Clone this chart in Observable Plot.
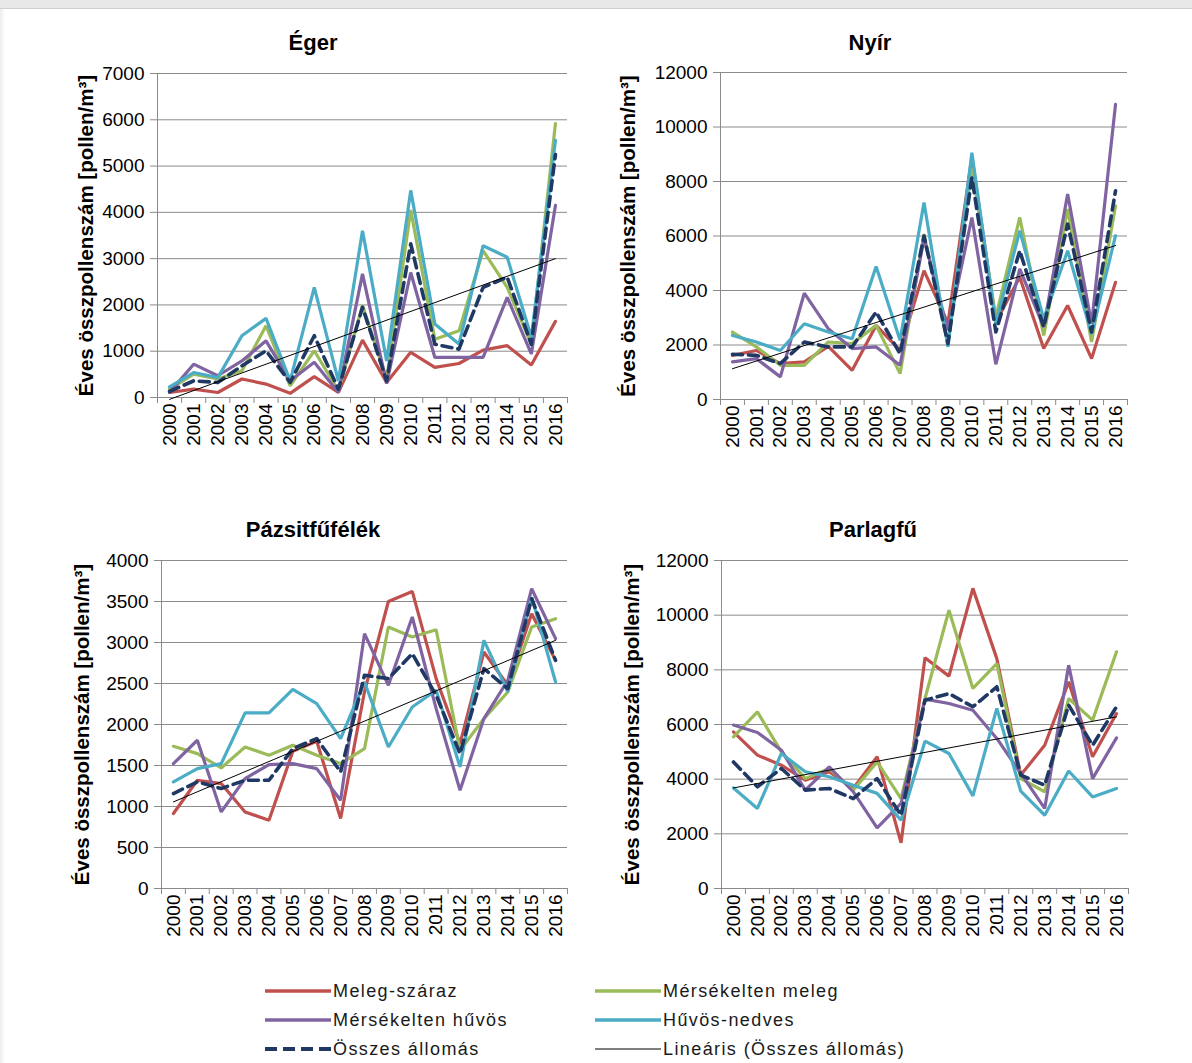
<!DOCTYPE html>
<html>
<head>
<meta charset="utf-8">
<script src="https://cdn.jsdelivr.net/npm/d3@7"></script>
<script src="https://cdn.jsdelivr.net/npm/@observablehq/plot@0.6"></script>
<style>
  html, body { margin: 0; padding: 0; background: #fff; }
  #root { position: relative; width: 1192px; height: 1063px; overflow: hidden; font-family: "Liberation Sans", Arial, sans-serif; }
  .topband { position: absolute; left: 0; top: 0; width: 1192px; height: 8px; background: #e8e8e8; border-bottom: 1px solid #cfcfcf; }
  .leftband { position: absolute; left: 0; top: 9px; width: 5px; height: 1054px; background: linear-gradient(to right, #ececec, #fff); }
  .chart { position: absolute; }
  .title { position: absolute; width: 300px; text-align: center; font-weight: bold; font-size: 22px; color: #000; }
  .leg { position: absolute; font-size: 18px; color: #1a1a1a; display: flex; align-items: center; letter-spacing: 1.4px; }
  .leg svg { margin-right: 2px; }
</style>
</head>
<body>
<div id="root">
  <div class="topband"></div>
  <div class="leftband"></div>
</div>
<script>
// ---- Data ----
const years = [2000, 2001, 2002, 2003, 2004, 2005, 2006, 2007, 2008, 2009, 2010, 2011, 2012, 2013, 2014, 2015, 2016];
const seriesNames = ["Meleg-száraz", "Mérsékelten meleg", "Mérsékelten hűvös", "Hűvös-nedves", "Összes állomás"];
const trendName = "Lineáris (Összes állomás)";
const seriesColors = ["#c0504d", "#9bbb59", "#8064a2", "#4bacc6", "#1f3864"];
const yLabel = "Éves összpollenszám [pollen/m³]";

// Éger
const egerMelegSzaraz = [108, 180, 108, 400, 290, 90, 450, 110, 1240, 325, 975, 650, 735, 1025, 1120, 700, 1645];
const egerMersMeleg   = [180, 505, 400, 580, 1550, 250, 1010, 145, 1985, 400, 4050, 1260, 1440, 3175, 2380, 1150, 5920];
const egerMersHuvos   = [110, 720, 470, 790, 1225, 360, 760, 110, 2670, 300, 2700, 865, 865, 865, 2165, 940, 4150];
const egerHuvosNedves = [230, 540, 430, 1335, 1710, 360, 2380, 360, 3600, 790, 4475, 1590, 1155, 3280, 3030, 1300, 5555];
const egerOsszes      = [130, 360, 325, 685, 1010, 325, 1335, 180, 1950, 360, 3320, 1150, 1045, 2380, 2600, 1150, 5250];
const egerTrend       = [-40, 3000];
const egerTicks       = [0, 1000, 2000, 3000, 4000, 5000, 6000, 7000];

// Nyír
const nyirMelegSzaraz = [1620, 1800, 1320, 1380, 1950, 1070, 2720, 1800, 4730, 2800, 8900, 2840, 4490, 1870, 3450, 1500, 4300];
const nyirMersMeleg   = [2475, 1930, 1255, 1255, 2110, 2050, 2720, 950, 6070, 2050, 8510, 3020, 6680, 2350, 6990, 2110, 7110];
const nyirMersHuvos   = [1380, 1500, 830, 3900, 2600, 1870, 1930, 1255, 5900, 2540, 6680, 1290, 4790, 2660, 7540, 2780, 10830];
const nyirHuvosNedves = [2350, 2110, 1800, 2780, 2475, 2230, 4880, 2170, 7230, 1930, 9060, 2780, 6200, 2960, 5460, 2410, 6010];
const nyirOsszes      = [1660, 1620, 1320, 2110, 1930, 1930, 3210, 1680, 6000, 2050, 8150, 2475, 5460, 2660, 6440, 2475, 7660];
const nyirTrend       = [1130, 5650];
const nyirTicks       = [0, 2000, 4000, 6000, 8000, 10000, 12000];

// Pázsitfűfélék
const pazsMelegSzaraz = [914, 1320, 1280, 934, 833, 1673, 1795, 853, 2400, 3500, 3623, 2560, 1767, 2884, 2478, 3351, 2782];
const pazsMersMeleg   = [1734, 1645, 1470, 1726, 1625, 1747, 1625, 1523, 1706, 3189, 3067, 3156, 1686, 2072, 2397, 3189, 3290];
const pazsMersHuvos   = [1523, 1808, 934, 1340, 1511, 1523, 1462, 1076, 3108, 2478, 3311, 2193, 1198, 2072, 2539, 3656, 3047];
const pazsHuvosNedves = [1300, 1462, 1523, 2141, 2141, 2429, 2254, 1828, 2519, 1726, 2214, 2417, 1483, 3026, 2397, 3554, 2519];
const pazsOsszes      = [1158, 1300, 1219, 1320, 1320, 1706, 1828, 1422, 2600, 2560, 2864, 2356, 1645, 2681, 2437, 3534, 2782];
const pazsTrend       = [1056, 3026];
const pazsTicks       = [0, 500, 1000, 1500, 2000, 2500, 3000, 3500, 4000];

// Parlagfű
const parlMelegSzaraz = [5730, 4880, 4510, 3960, 4270, 3660, 4820, 1670, 8440, 7770, 10980, 8410, 4150, 5240, 7560, 4820, 6400];
const parlMersMeleg   = [5550, 6460, 5000, 4020, 4390, 3600, 4630, 3290, 6950, 10180, 7320, 8230, 4020, 3540, 6950, 6160, 8660];
const parlMersHuvos   = [5980, 5710, 5060, 3600, 4450, 3540, 2220, 3110, 6930, 6770, 6520, 5490, 4210, 2930, 8170, 4020, 5510];
const parlHuvosNedves = [3680, 2930, 4940, 4270, 4090, 3780, 3480, 2500, 5390, 4940, 3390, 6590, 3560, 2680, 4300, 3350, 3660];
const parlOsszes      = [4630, 3720, 4390, 3600, 3660, 3290, 4020, 2680, 6890, 7130, 6650, 7380, 4150, 3780, 6710, 5240, 6650];
const parlTrend       = [3680, 6280];
const parlTicks       = [0, 2000, 4000, 6000, 8000, 10000, 12000];

// ---- Panels (layout) ----
const panels = [
  { title: "Éger", series: [egerMelegSzaraz, egerMersMeleg, egerMersHuvos, egerHuvosNedves, egerOsszes], trend: egerTrend, ticks: egerTicks,
    left: 0, top: 50, ml: 157, mr: 15, mt: 23, mb: 73, labelDx: -71, titleX: 313, titleY: 30 },
  { title: "Nyír", series: [nyirMelegSzaraz, nyirMersMeleg, nyirMersHuvos, nyirHuvosNedves, nyirOsszes], trend: nyirTrend, ticks: nyirTicks,
    left: 560, top: 50, ml: 160, mr: 15, mt: 22, mb: 71, labelDx: -92, titleX: 870, titleY: 30 },
  { title: "Pázsitfűfélék", series: [pazsMelegSzaraz, pazsMersMeleg, pazsMersHuvos, pazsHuvosNedves, pazsOsszes], trend: pazsTrend, ticks: pazsTicks,
    left: 0, top: 535, ml: 161, mr: 15, mt: 25, mb: 67, labelDx: -79, titleX: 313, titleY: 517 },
  { title: "Parlagfű", series: [parlMelegSzaraz, parlMersMeleg, parlMersHuvos, parlHuvosNedves, parlOsszes], trend: parlTrend, ticks: parlTicks,
    left: 560, top: 535, ml: 161, mr: 14, mt: 25, mb: 67, labelDx: -89, titleX: 873, titleY: 517 }
];

const root = document.getElementById("root");
const gridColor = "#8a8a8a";
const boundaries = years.map(y => y - 0.5).concat([years[years.length - 1] + 0.5]);

function chart(p) {
  const rows = [];
  p.series.forEach((vals, i) => vals.forEach((v, j) => rows.push({ year: years[j], value: v, s: seriesNames[i] })));
  const solid = rows.filter(d => d.s !== seriesNames[4]);
  const dashed = rows.filter(d => d.s === seriesNames[4]);
  const trend = [{ year: years[0], value: p.trend[0] }, { year: years[years.length - 1], value: p.trend[1] }];
  return Plot.plot({
    width: 582, height: 420,
    marginLeft: p.ml, marginRight: p.mr, marginTop: p.mt, marginBottom: p.mb,
    style: { fontFamily: "'Liberation Sans', Arial, sans-serif", fontSize: "19px", color: "#000", background: "transparent", overflow: "visible" },
    x: { type: "linear", domain: [boundaries[0], boundaries[boundaries.length - 1]] },
    y: { domain: [p.ticks[0], p.ticks[p.ticks.length - 1]] },
    color: { domain: seriesNames, range: seriesColors },
    marks: [
      Plot.ruleY(p.ticks, { stroke: gridColor, strokeWidth: 1 }),
      Plot.ruleX([boundaries[0]], { stroke: gridColor, strokeWidth: 1 }),
      Plot.axisY({ ticks: p.ticks, tickSize: 7, tickPadding: 6, tickFormat: d => String(d), label: null, stroke: gridColor, fill: "#000" }),
      Plot.axisX({ ticks: boundaries, tickSize: 6, tickFormat: () => "", label: null, stroke: gridColor }),
      Plot.axisX({ ticks: years, tickSize: 0, tickPadding: 6, tickRotate: -90, tickFormat: d => String(d), label: null, fill: "#000" }),
      Plot.line(solid, { x: "year", y: "value", z: "s", stroke: "s", strokeWidth: 3.2, strokeLinejoin: "miter" }),
      Plot.line(dashed, { x: "year", y: "value", stroke: seriesColors[4], strokeWidth: 3.6, strokeDasharray: "10,6" }),
      Plot.line(trend, { x: "year", y: "value", stroke: "#000", strokeWidth: 1 }),
      Plot.text([yLabel], { frameAnchor: "left", textAnchor: "middle", rotate: -90, dx: p.labelDx, fontWeight: "bold", fontSize: 20.5, fill: "#000" })
    ]
  });
}

for (const p of panels) {
  const svg = chart(p);
  svg.classList.add("chart");
  svg.style.left = p.left + "px";
  svg.style.top = p.top + "px";
  root.appendChild(svg);
  const t = document.createElement("div");
  t.className = "title";
  t.textContent = p.title;
  t.style.left = (p.titleX - 150) + "px";
  t.style.top = p.titleY + "px";
  root.appendChild(t);
}

// ---- Legend ----
const legendItems = [
  { name: seriesNames[0], color: seriesColors[0], dash: null, w: 3.5, x: 265, y: 991 },
  { name: seriesNames[1], color: seriesColors[1], dash: null, w: 3.5, x: 595, y: 991 },
  { name: seriesNames[2], color: seriesColors[2], dash: null, w: 3.5, x: 265, y: 1020 },
  { name: seriesNames[3], color: seriesColors[3], dash: null, w: 3.5, x: 595, y: 1020 },
  { name: seriesNames[4], color: seriesColors[4], dash: "12,6", w: 4, x: 265, y: 1049 },
  { name: trendName, color: "#000", dash: null, w: 1.2, x: 595, y: 1049 }
];
for (const it of legendItems) {
  const d = document.createElement("div");
  d.className = "leg";
  d.style.left = it.x + "px";
  d.style.top = (it.y - 12) + "px";
  d.style.height = "24px";
  d.innerHTML = `<svg width="66" height="10"><line x1="0" x2="66" y1="5" y2="5" stroke="${it.color}" stroke-width="${it.w}" ${it.dash ? `stroke-dasharray="${it.dash}"` : ""}/></svg><span>${it.name}</span>`;
  root.appendChild(d);
}
</script>
</body>
</html>
